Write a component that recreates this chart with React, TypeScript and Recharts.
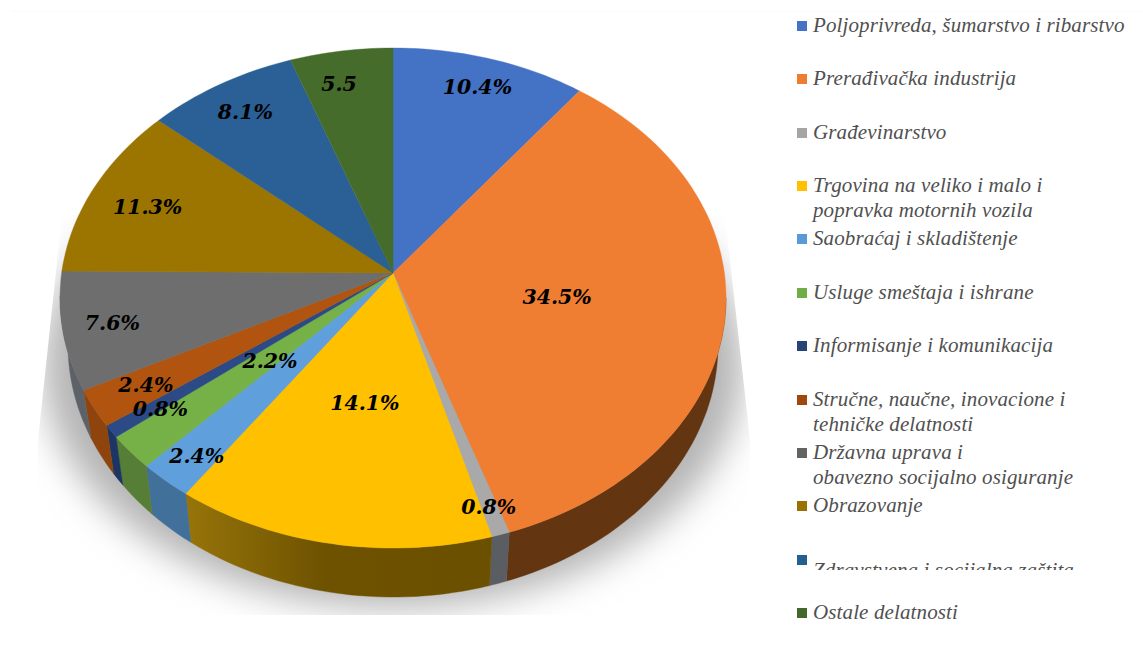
import { Legend, Pie, PieChart } from 'recharts';

const sectors = [
  'Poljoprivreda, šumarstvo i ribarstvo',
  'Prerađivačka industrija',
  'Građevinarstvo',
  'Trgovina na veliko i malo i\npopravka motornih vozila',
  'Saobraćaj i skladištenje',
  'Usluge smeštaja i ishrane',
  'Informisanje i komunikacija',
  'Stručne, naučne, inovacione i\ntehničke delatnosti',
  'Državna uprava i\nobavezno socijalno osiguranje',
  'Obrazovanje',
  'Zdravstvena i socijalna zaštita',
  'Ostale delatnosti',
];
const shares = [10.4, 34.5, 0.8, 14.1, 2.4, 2.2, 0.8, 2.4, 7.6, 11.3, 8.1, 5.5];
const shareLabels = ['10.4%', '34.5%', '0.8%', '14.1%', '2.4%', '2.2%', '0.8%', '2.4%', '7.6%', '11.3%', '8.1%', '5.5'];

const topColors = ['#4472C4', '#F07E32', '#A9A9A9', '#FFC000', '#5FA0DC', '#76B147', '#2B4A86', '#B0540F', '#6E6E6E', '#9C7500', '#2A6096', '#466C2C'];
const wallColors = ['#2f4f88', '#633511', '#5a5d62', 'url(#yellowWall)', '#41709a', '#567e36', '#1c3562', '#8f440e', '#5d6268', '#6b5000', '#1a4266', '#2f491e'];
const legendColors = ['#4472C4', '#ED7D31', '#A5A5A5', '#FFC000', '#5B9BD5', '#70AD47', '#264478', '#9E480E', '#636363', '#997300', '#255E91', '#43682B'];

// how far along the slice's middle ray each label sits, plus a small nudge
const labelReach = [0.87, 0.494, 0.89, 0.47, 0.87, 0.48, 0.84, 0.83, 0.85, 0.82, 0.855, 0.85];
const labelNudgeX = [0, 0, 0, 1, 2, 3, 4, 1, 0, 0, 0, -10];
const labelNudgeY = [0, 4, 1, 3, 3, 2, 3, 0, 1, 4, 0, 0];
// the Zdravstvena row sits lower than its square and is cut by the white band
const legendTextNudge = [0, 0, 0, 0, 0, 0, 0, 0, 0, 0, 11.5, 0];

const chartData = sectors.map((name, i) => ({ name, value: shares[i], fill: topColors[i] }));
const wallData = sectors.map((name, i) => ({ name, value: shares[i], fill: wallColors[i] }));

const APEX_X = 393;
const APEX_Y = 273;
// top rim and bottom rim of the tilted disc
const RIM = { x: 393, y: 298, rx: 333, ry: 250 };
const BASE = { x: 393, y: 345, rx: 325, ry: 252 };
const TILT = (APEX_Y - RIM.y) / RIM.ry;

// recharts angle -> unit circle point, pushed so the circle centre lands on the apex
const project = (angle: number) => {
  const t = ((90 - angle) * Math.PI) / 180;
  const u = Math.sin(t);
  const v = -Math.cos(t);
  const d = 1 + TILT * v;
  return { u: (u * Math.sqrt(1 - TILT * TILT)) / d, v: (v + TILT) / d };
};
const onRim = (angle: number, e = RIM) => {
  const p = project(angle);
  return [e.x + e.rx * p.u, e.y + e.ry * p.v];
};
const sweep = (from: number, to: number) => {
  const n = Math.max(2, Math.ceil(Math.abs(to - from) / 1.5));
  return Array.from({ length: n + 1 }, (_, i) => from + ((to - from) * i) / n);
};
const pts = (list: number[][]) => list.map((p) => `${p[0].toFixed(1)},${p[1].toFixed(1)}`).join(' ');

const TopSlice = (props: any) => {
  const rim = sweep(props.startAngle, props.endAngle).map((a) => onRim(a));
  return <polygon points={pts([[APEX_X, APEX_Y], ...rim])} fill={props.fill} stroke={props.fill} strokeWidth={0.4} />;
};

const WallSlice = (props: any) => {
  const angles = sweep(props.startAngle, props.endAngle).filter((a) => project(a).v > -0.02);
  if (angles.length < 2) return <g />;
  const upper = angles.map((a) => onRim(a));
  const lower = angles.map((a) => onRim(a, BASE)).reverse();
  return <polygon points={pts([...upper, ...lower])} fill={props.fill} stroke={props.fill} strokeWidth={0.4} />;
};

const SliceLabel = (props: any) => {
  const i = props.index;
  const [rx, ry] = onRim(props.midAngle);
  const x = APEX_X + (rx - APEX_X) * labelReach[i] + labelNudgeX[i];
  const y = APEX_Y + (ry - APEX_Y) * labelReach[i] + labelNudgeY[i];
  return (
    <text
      x={x}
      y={y}
      textAnchor="middle"
      dominantBaseline="central"
      fontFamily="'DejaVu Serif', serif"
      fontWeight="bold"
      fontStyle="italic"
      fontSize={20.5}
      fill="#000"
    >
      {shareLabels[i]}
    </text>
  );
};

const LegendList = ({ payload }: any) => {
  // both pies report here, only the top faces should be listed
  const items = sectors.map((name) => (payload || []).find((p: any) => p.value === name && topColors.includes(p.color)));
  return (
    <div style={{ position: 'relative', width: 346, height: 625 }}>
      {items.map((item: any, i: number) =>
        item ? (
          <div key={item.value} style={{ position: 'absolute', left: 0, top: 53.36 * i, height: 50 }}>
            <span style={{ position: 'absolute', left: 0, top: 3, width: 10, height: 10, background: legendColors[i] }} />
            <div
              style={{
                position: 'absolute',
                left: 16,
                top: -5 + legendTextNudge[i],
                width: 330,
                whiteSpace: 'pre',
                fontFamily: "'Liberation Serif', serif",
                fontStyle: 'italic',
                fontSize: 21,
                letterSpacing: 0.12,
                lineHeight: '25px',
                color: '#505050',
              }}
            >
              {item.value}
            </div>
          </div>
        ) : null,
      )}
      {/* the source picture has a white band over this row */}
      <div style={{ position: 'absolute', left: 0, top: 552, width: 346, height: 28, background: '#fff' }} />
    </div>
  );
};

export default function App() {
  return (
    <div style={{ position: 'fixed', left: 0, top: 0, width: 1143, height: 649, background: '#fff', overflow: 'hidden' }}>
      <svg width={1143} height={649} style={{ position: 'absolute', left: 0, top: 0 }}>
        <defs>
          <filter id="soft" x="-20%" y="-20%" width="140%" height="140%">
            <feGaussianBlur stdDeviation="18" />
          </filter>
          <clipPath id="shadowClip">
            <polygon points="62,215 725,215 750,440 748,615 38,615 38,440" />
          </clipPath>
        </defs>
        <line x1={12} y1={11} x2={1143} y2={11} stroke="#fafafa" />
        <g clipPath="url(#shadowClip)">
          <ellipse cx={393} cy={366} rx={350} ry={242} fill="#b4b4b4" filter="url(#soft)" />
        </g>
      </svg>
      <div style={{ position: 'absolute', left: 0, top: 0 }}>
        <PieChart width={1143} height={649} margin={{ top: 0, right: 0, bottom: 0, left: 0 }}>
          <defs>
            <linearGradient id="yellowWall" gradientUnits="userSpaceOnUse" x1="188" y1="0" x2="490" y2="0">
              <stop offset="0" stopColor="#96740a" />
              <stop offset="0.45" stopColor="#6e5200" />
              <stop offset="1" stopColor="#6b5000" />
            </linearGradient>
          </defs>
          <Pie
            data={wallData}
            dataKey="value"
            nameKey="name"
            cx={APEX_X}
            cy={APEX_Y}
            outerRadius={250}
            startAngle={90}
            endAngle={-270}
            legendType="none"
            shape={WallSlice}
            isAnimationActive={false}
          />
          <Pie
            data={chartData}
            dataKey="value"
            nameKey="name"
            cx={APEX_X}
            cy={APEX_Y}
            outerRadius={250}
            startAngle={90}
            endAngle={-270}
            shape={TopSlice}
            label={SliceLabel}
            labelLine={false}
            isAnimationActive={false}
          />
          <Legend
            layout="vertical"
            align="right"
            verticalAlign="top"
            wrapperStyle={{ left: 797, top: 18, width: 346, right: 'auto' }}
            content={<LegendList />}
          />
        </PieChart>
      </div>
    </div>
  );
}
